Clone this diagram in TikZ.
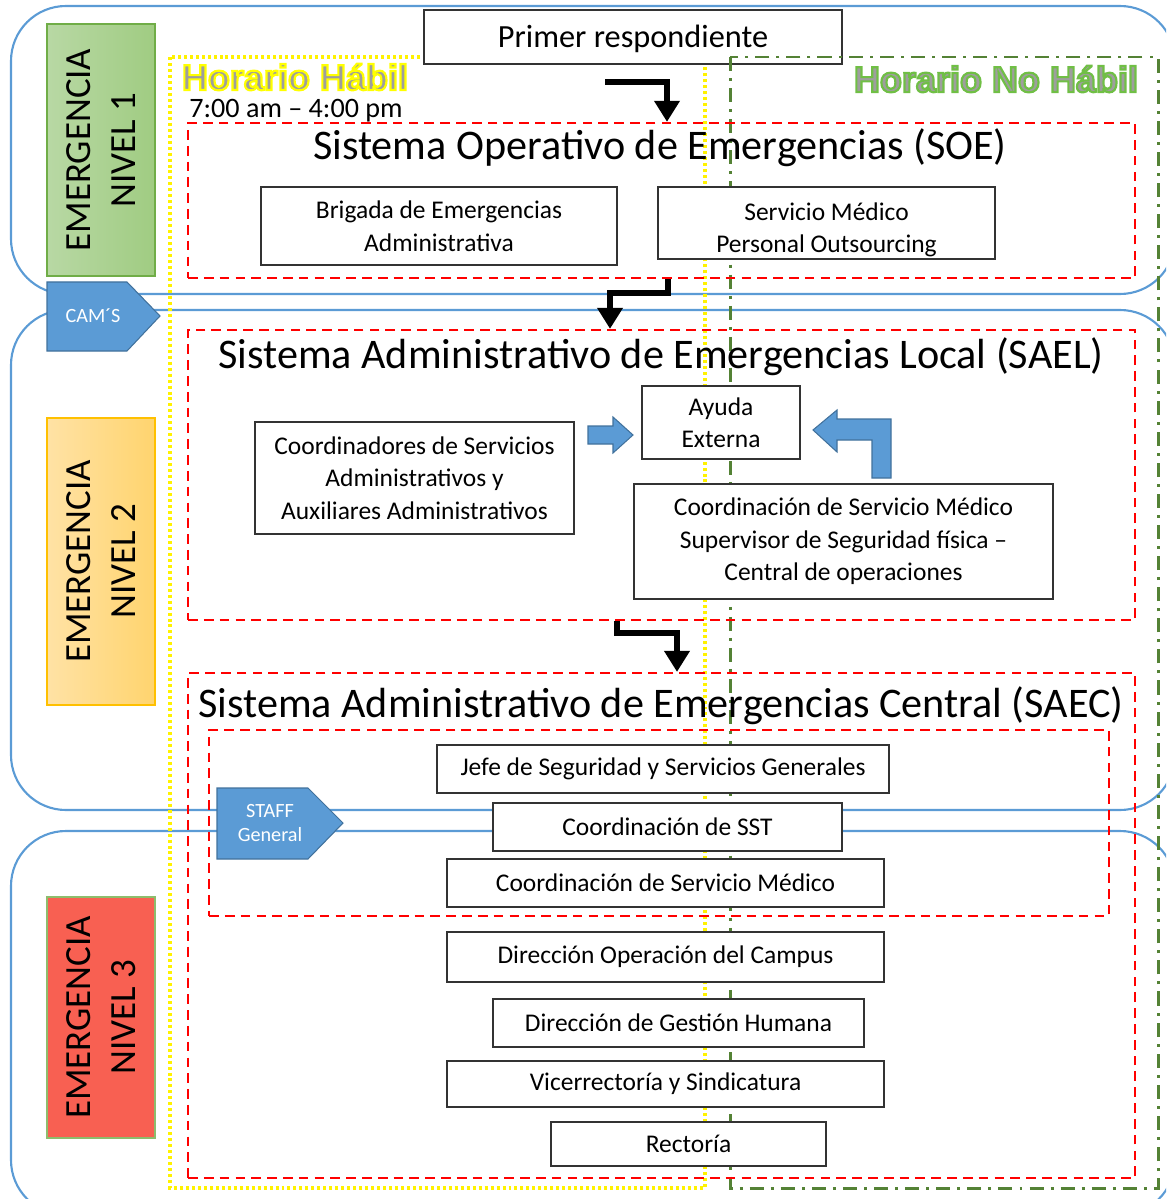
\documentclass[tikz,border=0pt]{standalone}
\usepackage{fontspec}
\setmainfont{Carlito}
\newfontfamily\artfont{Liberation Sans Bold}[FakeBold=6]
\usetikzlibrary{arrows.meta,positioning}
\definecolor{bandblue}{RGB}{91,155,213}
\definecolor{tagedge}{RGB}{65,113,156}
\definecolor{nhgreen}{RGB}{84,130,53}
\definecolor{lvgreen}{RGB}{112,173,71}
\definecolor{lvorange}{RGB}{255,192,0}
\definecolor{lvred}{RGB}{248,96,82}
% outlined word art: gray fill, coloured stroke
\newcommand{\yellowart}[1]{\special{pdf:bcolor [0.62] [1 1 0]}#1\special{pdf:ecolor}}
\newcommand{\greenart}[1]{\special{pdf:bcolor [0.62] [0.44 0.75 0.27]}#1\special{pdf:ecolor}}

\begin{document}
\begin{tikzpicture}[x=0.02cm, y=-0.02cm, band/.style={draw=bandblue, line width=1.2pt, rounded corners=1.1cm}, box/.style={draw=black!80, line width=0.9pt, fill=white, align=center, inner sep=2pt, font=\fontsize{14.5}{18.5}\selectfont}, sysframe/.style={draw=red, line width=1.3pt, dash pattern=on 5.5pt off 3.5pt}, title/.style={font=\fontsize{24}{28}\selectfont}, levelbox/.style={rotate=90, align=center, line width=0.8pt, minimum height=2.16cm, font=\fontsize{21}{25.6}\selectfont}, tag/.style={fill=bandblue, draw=tagedge, line width=0.6pt}, tagtext/.style={text=white, align=center, font=\fontsize{11.5}{14}\selectfont}, hours/.style={draw=yellow, line width=2.2pt, dash pattern=on 1.7pt off 1.7pt}, nohours/.style={draw=nhgreen, line width=1.7pt, dash pattern=on 8pt off 4pt on 1.7pt off 4pt}, wordart/.style={inner sep=0pt, font=\artfont\fontsize{20.5}{24}\selectfont}, flow/.style={line width=3.2pt, line join=miter, -{Triangle[width=14pt,length=12pt]}}]
\clip (0,0) rectangle (1166,1199);
% emergency levels
\draw[band] (11,6) rectangle (1175,294);
\draw[band] (11,310) rectangle (1175,810);
\draw[band] (11,831) rectangle (1175,1215);
\node[levelbox, minimum width=5.04cm, draw=lvgreen, left color={rgb,255:red,184;green,216;blue,164}, right color={rgb,255:red,160;green,204;blue,130}] (nivel1) at (101,150) {EMERGENCIA\\NIVEL 1};
\node[levelbox, minimum width=5.74cm, draw=lvorange, left color={rgb,255:red,255;green,226;blue,165}, right color={rgb,255:red,255;green,212;blue,110}] (nivel2) at (101,561.5) {EMERGENCIA\\NIVEL 2};
\node[levelbox, minimum width=4.82cm, draw=lvgreen!80, fill=lvred] (nivel3) at (101,1017.5) {EMERGENCIA\\NIVEL 3};
% schedules
\draw[hours] (170,57) rectangle (705,1188);
\node[box, minimum width=8.36cm, minimum height=1.08cm, text height=16pt, text depth=4pt, font=\fontsize{18.4}{22}\selectfont] (primer) at (633,37) {Primer respondiente};
\draw[nohours] (730,57) rectangle (1158,1188);
\node[wordart] (habil) at (295,77) {\yellowart{Horario Hábil}};
\node[inner sep=0pt, font=\fontsize{16}{19}\selectfont] (horas) at (296,111) {7:00 am – 4:00 pm};
\node[wordart] (nohabil) at (996,79) {\greenart{Horario No Hábil}};
% SOE
\node[sysframe, minimum width=18.94cm, minimum height=3.1cm] (soe) at (661.5,200.5) {};
\node[title] (soetitle) at (660,148) {Sistema Operativo de Emergencias (SOE)};
\node[box, minimum width=7.12cm, minimum height=1.56cm] (brigada) at (439,226) {Brigada de Emergencias\\Administrativa};
\node[box, minimum width=6.74cm, minimum height=1.44cm, text height=35pt, text depth=1pt] (servmed) at (826.5,223) {Servicio Médico\\Personal Outsourcing};
% SAEL
\node[sysframe, minimum width=18.94cm, minimum height=5.8cm] (sael) at (661.5,475) {};
\node[title] (saeltitle) at (661,357) {Sistema Administrativo de Emergencias Local (SAEL)};
\node[box, minimum width=3.16cm, minimum height=1.46cm] (ayuda) at (721,422.5) {Ayuda\\Externa};
\node[box, minimum width=6.38cm, minimum height=2.24cm] (coords) at (414.5,478) {Coordinadores de Servicios\\Administrativos y\\Auxiliares Administrativos};
\node[box, minimum width=8.38cm, minimum height=2.3cm] (coordmed) at (843.5,541.5) {Coordinación de Servicio Médico\\Supervisor de Seguridad física –\\Central de operaciones};
% SAEC
\node[sysframe, minimum width=18.94cm, minimum height=10.1cm] (saec) at (661.5,925.5) {};
\node[sysframe, minimum width=18cm, minimum height=3.72cm] (staffzone) at (659,823) {};
\node[title] (saectitle) at (661,706) {Sistema Administrativo de Emergencias Central (SAEC)};
\node[box, minimum width=9.04cm, minimum height=0.96cm] (jefe) at (663,769) {Jefe de Seguridad y Servicios Generales};
\node[box, minimum width=6.98cm, minimum height=0.96cm] (sst) at (667.5,827) {Coordinación de SST};
\node[box, minimum width=8.74cm, minimum height=0.96cm] (smed) at (665.5,883) {Coordinación de Servicio Médico};
\node[box, minimum width=8.74cm, minimum height=1cm] (campus) at (665.5,957) {Dirección Operación del Campus};
\node[box, minimum width=7.42cm, minimum height=0.96cm] (humana) at (678.5,1023) {Dirección de Gestión Humana};
\node[box, minimum width=8.74cm, minimum height=0.92cm] (vice) at (665.5,1084) {Vicerrectoría y Sindicatura};
\node[box, minimum width=5.5cm, minimum height=0.88cm] (rectoria) at (688.5,1144) {Rectoría};
% tags
\path[tag] (47,282) -- (127,282) -- (160,316) -- (127,351) -- (47,351) -- cycle;
\node[tagtext] (cams) at (93,316) {CAM´S};
\path[tag] (217,788) -- (308,788) -- (343,823) -- (308,859) -- (217,859) -- cycle;
\node[tagtext] (staff) at (270,823) {STAFF\\General};
% block arrows to Ayuda Externa
\path[tag] (588,426) -- (613,426) -- (613,417) -- (633,435) -- (613,453) -- (613,444) -- (588,444) -- cycle;
\path[tag] (891,478) -- (891,419) -- (837,419) -- (837,410) -- (813,430) -- (837,452) -- (837,440) -- (872,440) -- (872,478) -- cycle;
% escalation
\coordinate (inicio) at (605,82);
\draw[flow] (inicio) -| (667,0 |- soe.north);
\draw[flow] (668,0 |- soe.south) |- (610,293) -- (610,0 |- sael.north);
\draw[flow] (617,0 |- sael.south) |- (677,633) -- (677,0 |- saec.north);
\end{tikzpicture}
\end{document}
